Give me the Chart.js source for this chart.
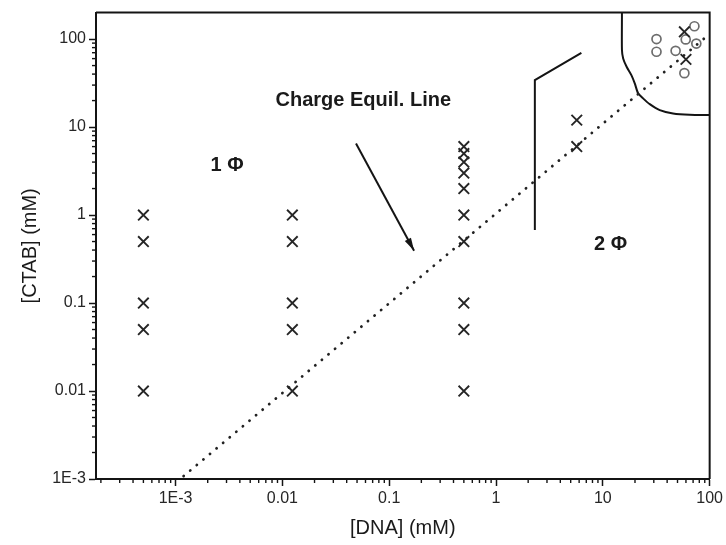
<!DOCTYPE html>
<html>
<head>
<meta charset="utf-8">
<script src="https://cdn.jsdelivr.net/npm/chart.js@4/dist/chart.umd.min.js"></script>
<style>
html, body { margin: 0; padding: 0; background: #fff; }
#wrap { width: 726px; height: 545px; }
</style>
</head>
<body>
<div id="wrap"><canvas id="phaseChart" width="726" height="545"></canvas></div>
<script>
// one-phase samples (crosses), concentrations in mM
const crossDNA  = [5e-4, 5e-4, 5e-4, 5e-4, 5e-4,
                   0.0124, 0.0124, 0.0124, 0.0124, 0.0124,
                   0.5, 0.5, 0.5, 0.5, 0.5, 0.5, 0.5, 0.5, 0.5, 0.5,
                   5.7, 5.7, 58, 60];
const crossCTAB = [1, 0.5, 0.1, 0.05, 0.01,
                   1, 0.5, 0.1, 0.05, 0.01,
                   6, 5, 4, 3, 2, 1, 0.5, 0.1, 0.05, 0.01,
                   12, 6, 121, 58.8];

// samples in the upper right region (open circles)
const circleDNA  = [31.8, 31.8, 48, 59.7, 72, 75, 58];
const circleCTAB = [100, 71.8, 73.6, 99, 140, 89, 41];

// charge equilibrium line
const equilDNA  = [0.00119, 91.8];
const equilCTAB = [0.00108, 105];

// phase boundaries
const boundADNA  = [2.31, 2.31, 6.3];
const boundACTAB = [0.675, 34.2, 69.8];
const boundBDNA  = [15.1, 15.1, 15.5, 16.7, 18.5, 19.9, 21.4, 23.8, 27.5, 34.1, 45.4, 65, 100];
const boundBCTAB = [200, 75, 60.3, 48.4, 38.9, 31.4, 24.2, 21.2, 18.2, 15.6, 14.3, 13.8, 13.7];

// arrow pointing at the equilibrium line
const arrowDNA  = [0.0489, 0.171];
const arrowCTAB = [6.5, 0.393];

const xTicks = [0.001, 0.01, 0.1, 1, 10, 100];
const xTickLabels = ['1E-3', '0.01', '0.1', '1', '10', '100'];
const yTicks = [0.001, 0.01, 0.1, 1, 10, 100];
const yTickLabels = ['1E-3', '0.01', '0.1', '1', '10', '100'];

// text placed in data coordinates
const notes = [
  { text: 'Charge Equil. Line', x: 0.0572, y: 20.3 },
  { text: '1 \u03A6', x: 3.04e-3, y: 3.7 },
  { text: '2 \u03A6', x: 11.8, y: 0.46 }
];

const pts = (xs, ys) => xs.map((x, i) => ({ x: x, y: ys[i] }));

const INK = '#141414';
const FONT = '"Liberation Sans", Arial, sans-serif';

const decor = {
  id: 'decor',
  afterDatasetsDraw(chart) {
    const ctx = chart.ctx;
    const a = chart.chartArea;
    const xs = chart.scales.x, ys = chart.scales.y;
    ctx.save();

    // top and right edges of the frame
    ctx.strokeStyle = INK;
    ctx.lineWidth = 2;
    ctx.beginPath();
    ctx.moveTo(a.left, a.top);
    ctx.lineTo(a.right, a.top);
    ctx.lineTo(a.right, a.bottom);
    ctx.stroke();

    // minor ticks, 2..9 per decade, pointing outward
    ctx.lineWidth = 1.4;
    for (let e = -4; e <= 2; e++) {
      for (let k = 2; k <= 9; k++) {
        const v = k * Math.pow(10, e);
        if (v > xs.min && v < xs.max) {
          const px = xs.getPixelForValue(v);
          ctx.beginPath();
          ctx.moveTo(px, a.bottom);
          ctx.lineTo(px, a.bottom + 4);
          ctx.stroke();
        }
        if (v > ys.min && v < ys.max) {
          const py = ys.getPixelForValue(v);
          ctx.beginPath();
          ctx.moveTo(a.left, py);
          ctx.lineTo(a.left - 4, py);
          ctx.stroke();
        }
      }
    }

    // arrow head at the end of the arrow
    const n = arrowDNA.length - 1;
    const x0 = xs.getPixelForValue(arrowDNA[n - 1]), y0 = ys.getPixelForValue(arrowCTAB[n - 1]);
    const x1 = xs.getPixelForValue(arrowDNA[n]), y1 = ys.getPixelForValue(arrowCTAB[n]);
    const ang = Math.atan2(y1 - y0, x1 - x0);
    ctx.fillStyle = INK;
    ctx.beginPath();
    ctx.moveTo(x1, y1);
    ctx.lineTo(x1 - 13 * Math.cos(ang) + 3.5 * Math.sin(ang), y1 - 13 * Math.sin(ang) - 3.5 * Math.cos(ang));
    ctx.lineTo(x1 - 13 * Math.cos(ang) - 3.5 * Math.sin(ang), y1 - 13 * Math.sin(ang) + 3.5 * Math.cos(ang));
    ctx.closePath();
    ctx.fill();

    // region labels
    ctx.font = 'bold 20px ' + FONT;
    ctx.fillStyle = '#1a1a1a';
    ctx.textAlign = 'center';
    ctx.textBaseline = 'middle';
    notes.forEach(t => {
      ctx.fillText(t.text, xs.getPixelForValue(t.x), ys.getPixelForValue(t.y));
    });
    ctx.restore();
  }
};

new Chart(document.getElementById('phaseChart'), {
  type: 'scatter',
  data: {
    datasets: [
      {
        data: pts(equilDNA, equilCTAB),
        showLine: true,
        borderColor: '#222',
        borderWidth: 2.8,
        borderDash: [0.1, 8.5],
        borderCapStyle: 'round',
        pointRadius: 0
      },
      {
        data: pts(boundADNA, boundACTAB),
        showLine: true,
        borderColor: INK,
        borderWidth: 2,
        pointRadius: 0
      },
      {
        data: pts(boundBDNA, boundBCTAB),
        showLine: true,
        borderColor: INK,
        borderWidth: 2,
        tension: 0.25,
        pointRadius: 0
      },
      {
        data: pts(arrowDNA, arrowCTAB),
        showLine: true,
        borderColor: INK,
        borderWidth: 2,
        pointRadius: 0
      },
      {
        data: pts(crossDNA, crossCTAB),
        pointStyle: 'crossRot',
        pointRadius: 7.5,
        pointBorderWidth: 1.9,
        borderColor: '#262626',
        backgroundColor: '#262626'
      },
      {
        data: pts(circleDNA, circleCTAB),
        pointStyle: 'circle',
        pointRadius: 4.5,
        pointBorderWidth: 1.7,
        borderColor: '#6e6e6e',
        backgroundColor: 'rgba(255,255,255,0)'
      }
    ]
  },
  options: {
    responsive: false,
    animation: false,
    events: [],
    layout: { padding: { top: 12, right: 16, bottom: 0, left: 0 } },
    plugins: {
      legend: { display: false },
      tooltip: { enabled: false }
    },
    scales: {
      x: {
        type: 'logarithmic',
        position: 'bottom',
        min: 1.8e-4,
        max: 100,
        afterBuildTicks: s => { s.ticks = xTicks.map(v => ({ value: v, major: true })); },
        afterFit: s => { s.height = 66; },
        ticks: {
          autoSkip: false,
          maxRotation: 0,
          padding: 3,
          color: '#262626',
          font: { family: FONT, size: 16 },
          callback: (v, i) => xTickLabels[i]
        },
        grid: { drawOnChartArea: false, drawTicks: true, tickLength: 7, tickWidth: 1.5, tickColor: INK },
        border: { display: true, color: INK, width: 2 },
        title: {
          display: true,
          text: '[DNA] (mM)',
          color: '#1a1a1a',
          font: { family: FONT, size: 20 },
          padding: { top: 0, bottom: 5 }
        }
      },
      y: {
        type: 'logarithmic',
        position: 'left',
        min: 0.001,
        max: 200,
        afterBuildTicks: s => { s.ticks = yTicks.map(v => ({ value: v, major: true })); },
        afterFit: s => { s.width = 96; },
        ticks: {
          autoSkip: false,
          padding: 3,
          color: '#262626',
          font: { family: FONT, size: 16 },
          callback: (v, i) => yTickLabels[i]
        },
        grid: { drawOnChartArea: false, drawTicks: true, tickLength: 7, tickWidth: 1.5, tickColor: INK },
        border: { display: true, color: INK, width: 2 },
        title: {
          display: true,
          text: '[CTAB] (mM)',
          color: '#1a1a1a',
          font: { family: FONT, size: 20 },
          padding: { top: 18, bottom: 0 }
        }
      }
    }
  },
  plugins: [decor]
});
</script>
</body>
</html>
